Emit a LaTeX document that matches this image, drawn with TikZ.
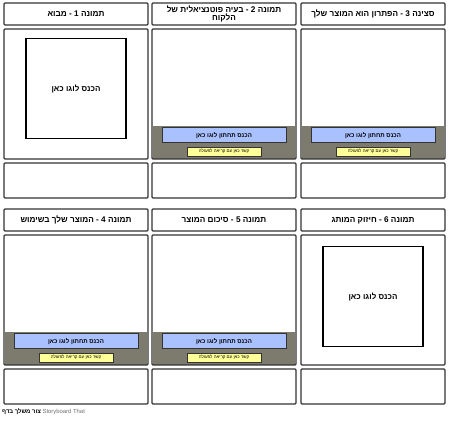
\documentclass[tikz,border=0pt]{standalone}
\usepackage{fontspec}
\setmainfont{Liberation Sans}
\newfontfamily\hebfont[Script=Hebrew]{Liberation Sans}
\TeXXeTstate=1
\usetikzlibrary{positioning}
\definecolor{frame}{HTML}{333333}
\definecolor{strip}{HTML}{7D7A6E}
\definecolor{bluebar}{HTML}{AAC1FF}
\definecolor{ctayellow}{HTML}{FFFF99}
\definecolor{brand}{HTML}{707070}
\tikzset{
  cell/.style={draw=frame, line width=1.1pt, rounded corners=1pt, minimum width=48mm, inner sep=0pt},
  title/.style={cell, minimum height=7.33mm, align=center, font=\hebfont\bfseries\fontsize{7.8}{8.3}\selectfont},
  panel/.style={cell, minimum height=43.33mm},
  note/.style={cell, minimum height=11.67mm},
  logo/.style={draw=black, line width=1.3pt, minimum width=33.3mm, minimum height=33.3mm, inner sep=0pt, font=\hebfont\bfseries\fontsize{7.6}{8}\selectfont},
  stripbox/.style={fill=strip, minimum width=47.6mm, minimum height=11mm, inner sep=0pt},
  bar/.style={draw=frame, fill=bluebar, line width=0.8pt, minimum width=41.3mm, minimum height=5mm, inner sep=0pt, font=\hebfont\bfseries\fontsize{5.8}{6}\selectfont},
  cta/.style={draw=frame, fill=ctayellow, line width=0.4pt, minimum width=24.7mm, minimum height=3mm, inner sep=0pt, font=\hebfont\fontsize{4.2}{5}\selectfont}
}

\begin{document}
\begin{tikzpicture}[x=0.3333mm,y=-0.3333mm]
\useasboundingbox (0,0) rectangle (450,420);
% grey strips behind the frames
\node[stripbox] (stripA2) at (224,142.5) {};
\node[stripbox] (stripA3) at (373,142.5) {};
\node[stripbox] (stripB1) at (76,348.5) {};
\node[stripbox] (stripB2) at (224,348.5) {};
\foreach \cx [count=\i] in {76,224,373} {
  \node[panel] (panelA\i) at (\cx,94) {};
  \node[note] (noteA\i) at (\cx,180.5) {};
  \node[panel] (panelB\i) at (\cx,300) {};
  \node[note] (noteB\i) at (\cx,386.5) {};
}
\node[title] (titleA1) at (76,14) {\beginR תמונה 1 - מבוא\endR};
\node[title] (titleA2) at (224,14) {\beginR תמונה 2 - בעיה פוטנציאלית של\endR\\\beginR הלקוח\endR};
\node[title] (titleA3) at (373,14) {\beginR סצינה 3 - הפתרון הוא המוצר שלך\endR};
\node[title] (titleB1) at (76,220) {\beginR תמונה 4 - המוצר שלך בשימוש\endR};
\node[title] (titleB2) at (224,220) {\beginR תמונה 5 - סיכום המוצר\endR};
\node[title] (titleB3) at (373,220) {\beginR תמונה 6 - חיזוק המותג\endR};
\node[logo] (logoA1) at (76,88.5) {\beginR הכנס לוגו כאן\endR};
\node[logo] (logoB3) at (373,296.5) {\beginR הכנס לוגו כאן\endR};
\foreach \s in {stripA2,stripA3,stripB1,stripB2} {
  \node[bar, below=0.5mm of \s.north] (bar\s) {\beginR הכנס תחתון לוגו כאן\endR};
  \node[cta, below=1.2mm of bar\s] (cta\s) {\beginR קשר כאן עם קריאה לפעולה\endR};
}
\node[anchor=west, inner sep=0pt, font=\fontsize{5.6}{6}\selectfont] (footer) at (2,412)
  {{\hebfont\bfseries\beginR צור משלך בדף\endR} \textcolor{brand}{Storyboard That}};
\end{tikzpicture}
\end{document}
